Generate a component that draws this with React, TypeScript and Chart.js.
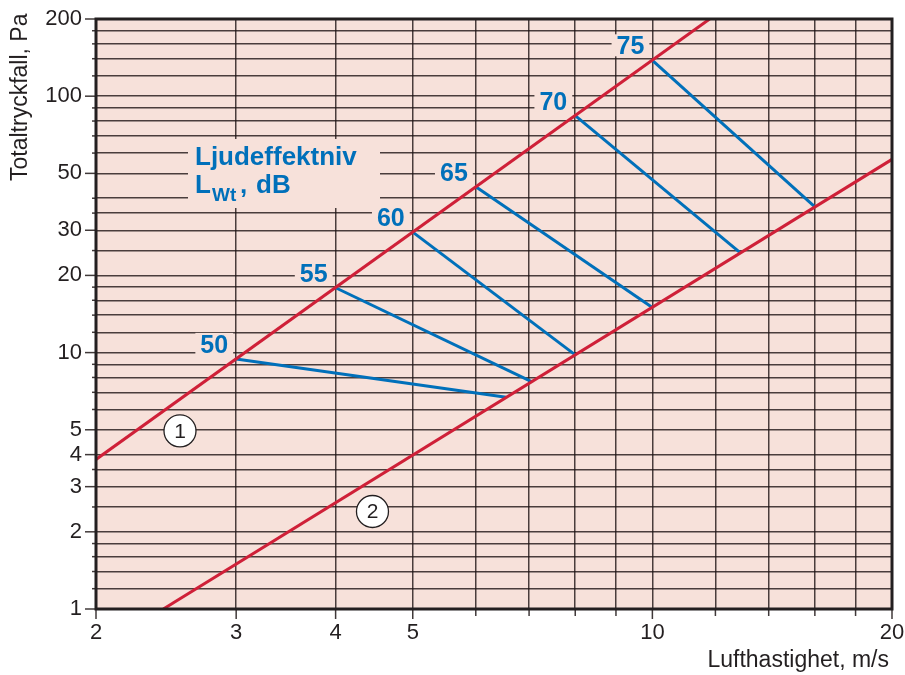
import React, { useEffect, useRef } from "react";
import { Chart, registerables } from "chart.js";

Chart.register(...registerables);

// ---- data ----
const xGrid = [2, 3, 4, 5, 6, 7, 8, 9, 10, 12, 14, 16, 18, 20];
const xLabels = [2, 3, 4, 5, 10, 20];
const yGrid = [1, 1.2, 1.4, 1.6, 1.8, 2, 2.5, 3, 3.5, 4, 5, 6, 7, 8, 9, 10, 12, 14, 16, 18, 20, 25, 30, 35, 40, 50, 60, 70, 80, 90, 100, 120, 140, 160, 180, 200];
const yLabels = [1, 2, 3, 4, 5, 10, 20, 30, 50, 100, 200];

// red limit lines (1) and (2)
const line1X = [2, 11.8];
const line1Y = [3.83, 200];
const line2X = [2.43, 20];
const line2Y = [1, 56.7];

// sound power level lines, L_Wt dB
const levels = ["50", "55", "60", "65", "70", "75"];
const startX = [3, 4, 5, 6, 8, 10];
const startY = [9.45, 17.9, 29.5, 44.3, 84, 138];
const endX = [6.55, 7.05, 8, 10, 12.9, 16];
const endY = [6.7, 7.7, 9.8, 15, 24.5, 37];

// circled line markers
const markerText = ["1", "2"];
const markerX = [2.55, 4.45];
const markerY = [4.95, 2.4];

const titleLine1 = "Ljudeffektniv";
const xTitle = "Lufthastighet, m/s";
const yTitle = "Totaltryckfall, Pa";

const PINK = "rgb(247,225,218)";
const RED = "rgb(207,32,56)";
const BLUE = "rgb(0,112,186)";
const FONT = "'Liberation Sans', Arial, Helvetica, sans-serif";

const decor = {
  id: "decor",
  beforeDraw(chart: any) {
    const { ctx, chartArea: a } = chart;
    ctx.save();
    ctx.fillStyle = PINK;
    ctx.fillRect(a.left, a.top, a.right - a.left, a.bottom - a.top);
    ctx.restore();
  },
  beforeDatasetsDraw(chart: any) {
    const { ctx, chartArea: a } = chart;
    const xs = chart.scales.x;
    const ys = chart.scales.y;
    ctx.save();
    // tick marks
    ctx.strokeStyle = "rgba(30,22,22,0.85)";
    ctx.lineWidth = 1.5;
    yGrid.forEach((v) => {
      const p = ys.getPixelForValue(v);
      const len = yLabels.includes(v) ? 11 : 4;
      ctx.beginPath();
      ctx.moveTo(a.left - len, p);
      ctx.lineTo(a.left, p);
      ctx.stroke();
    });
    xGrid.forEach((v) => {
      const p = xs.getPixelForValue(v);
      const len = xLabels.includes(v) ? 10 : 7;
      ctx.beginPath();
      ctx.moveTo(p, a.bottom);
      ctx.lineTo(p, a.bottom + len);
      ctx.stroke();
    });
    // masks behind texts
    ctx.fillStyle = PINK;
    ctx.fillRect(188, 139, 192, 69);
    ctx.font = `bold 25px ${FONT}`;
    levels.forEach((t, i) => {
      const px = xs.getPixelForValue(startX[i]) - 8;
      const py = ys.getPixelForValue(startY[i]) - 6;
      const w = ctx.measureText(t).width;
      ctx.fillRect(px - w - 5, py - 20, w + 10, 22);
    });
    ctx.restore();
  },
  afterDatasetsDraw(chart: any) {
    const { ctx, chartArea: a } = chart;
    const xs = chart.scales.x;
    const ys = chart.scales.y;
    ctx.save();
    // level labels
    ctx.fillStyle = BLUE;
    ctx.font = `bold 25px ${FONT}`;
    ctx.textAlign = "right";
    ctx.textBaseline = "alphabetic";
    levels.forEach((t, i) => {
      const px = xs.getPixelForValue(startX[i]) - 8;
      const py = ys.getPixelForValue(startY[i]) - 6;
      ctx.fillText(t, px, py);
    });
    // title block
    ctx.textAlign = "left";
    ctx.font = `bold 26px ${FONT}`;
    ctx.fillText(titleLine1, 195, 165);
    ctx.fillText("L", 195, 193);
    ctx.font = `bold 19px ${FONT}`;
    ctx.fillText("Wt", 212, 201);
    ctx.font = `bold 26px ${FONT}`;
    ctx.fillText(",", 240, 193);
    ctx.fillText("dB", 256, 193);
    // circled markers
    markerText.forEach((t, i) => {
      const cx = xs.getPixelForValue(markerX[i]);
      const cy = ys.getPixelForValue(markerY[i]);
      ctx.beginPath();
      ctx.arc(cx, cy, 16, 0, Math.PI * 2);
      ctx.fillStyle = "#ffffff";
      ctx.fill();
      ctx.lineWidth = 1.3;
      ctx.strokeStyle = "#231f20";
      ctx.stroke();
      ctx.fillStyle = "#231f20";
      ctx.font = `21px ${FONT}`;
      ctx.textAlign = "center";
      ctx.textBaseline = "middle";
      ctx.fillText(t, cx, cy + 1);
    });
    // border
    ctx.strokeStyle = "#231f20";
    ctx.lineWidth = 3;
    ctx.strokeRect(a.left, a.top, a.right - a.left, a.bottom - a.top);
    // axis titles
    ctx.fillStyle = "#231f20";
    ctx.font = `23px ${FONT}`;
    ctx.textAlign = "right";
    ctx.textBaseline = "alphabetic";
    ctx.fillText(xTitle, 889, 667);
    ctx.save();
    ctx.translate(27, 181);
    ctx.rotate(-Math.PI / 2);
    ctx.textAlign = "left";
    ctx.fillText(yTitle, 0, 0);
    ctx.restore();
    ctx.restore();
  },
};

const zeroPad = (s: any) => {
  s.paddingLeft = 0;
  s.paddingRight = 0;
  s.paddingTop = 0;
  s.paddingBottom = 0;
};

export default function App() {
  const ref = useRef<HTMLCanvasElement>(null);
  useEffect(() => {
    if (!ref.current) return;
    const toPts = (xa: number[], ya: number[]) => xa.map((x, i) => ({ x, y: ya[i] }));
    const datasets: any[] = [
      { data: toPts(line1X, line1Y), borderColor: RED },
      { data: toPts(line2X, line2Y), borderColor: RED },
      ...levels.map((_, i) => ({
        data: [
          { x: startX[i], y: startY[i] },
          { x: endX[i], y: endY[i] },
        ],
        borderColor: BLUE,
      })),
    ].map((d) => ({ ...d, showLine: true, pointRadius: 0, borderWidth: 3, fill: false }));

    const gridColor = "rgba(30,20,20,0.8)";
    const chart = new Chart(ref.current, {
      type: "scatter",
      data: { datasets },
      plugins: [decor],
      options: {
        animation: false,
        responsive: false,
        events: [],
        layout: { padding: { left: 0, top: 19, right: 13, bottom: 0 } },
        plugins: { legend: { display: false }, tooltip: { enabled: false } },
        scales: {
          x: {
            type: "logarithmic",
            min: 2,
            max: 20,
            afterBuildTicks: (s: any) => {
              s.ticks = xGrid.map((v) => ({ value: v }));
            },
            afterFit: (s: any) => {
              s.height = 66;
              zeroPad(s);
            },
            ticks: {
              autoSkip: false,
              maxRotation: 0,
              padding: 11,
              color: "#231f20",
              font: { family: FONT, size: 22 },
              callback: (v: any) => (xLabels.includes(Number(v)) ? String(v) : ""),
            },
            grid: { color: gridColor, lineWidth: 1.5, drawTicks: false },
            border: { display: false },
          },
          y: {
            type: "logarithmic",
            min: 1,
            max: 200,
            afterBuildTicks: (s: any) => {
              s.ticks = yGrid.map((v) => ({ value: v }));
            },
            afterFit: (s: any) => {
              s.width = 96;
              zeroPad(s);
            },
            ticks: {
              autoSkip: false,
              padding: 14,
              color: "#231f20",
              font: { family: FONT, size: 22 },
              callback: (v: any) => (yLabels.includes(Number(v)) ? String(v) : ""),
            },
            grid: { color: gridColor, lineWidth: 1.5, drawTicks: false },
            border: { display: false },
          },
        },
      },
    });
    return () => chart.destroy();
  }, []);
  return (
    <div style={{ position: "fixed", left: 0, top: 0, width: 905, height: 675, background: "#fff" }}>
      <canvas ref={ref} width={905} height={675} style={{ display: "block" }} />
    </div>
  );
}
